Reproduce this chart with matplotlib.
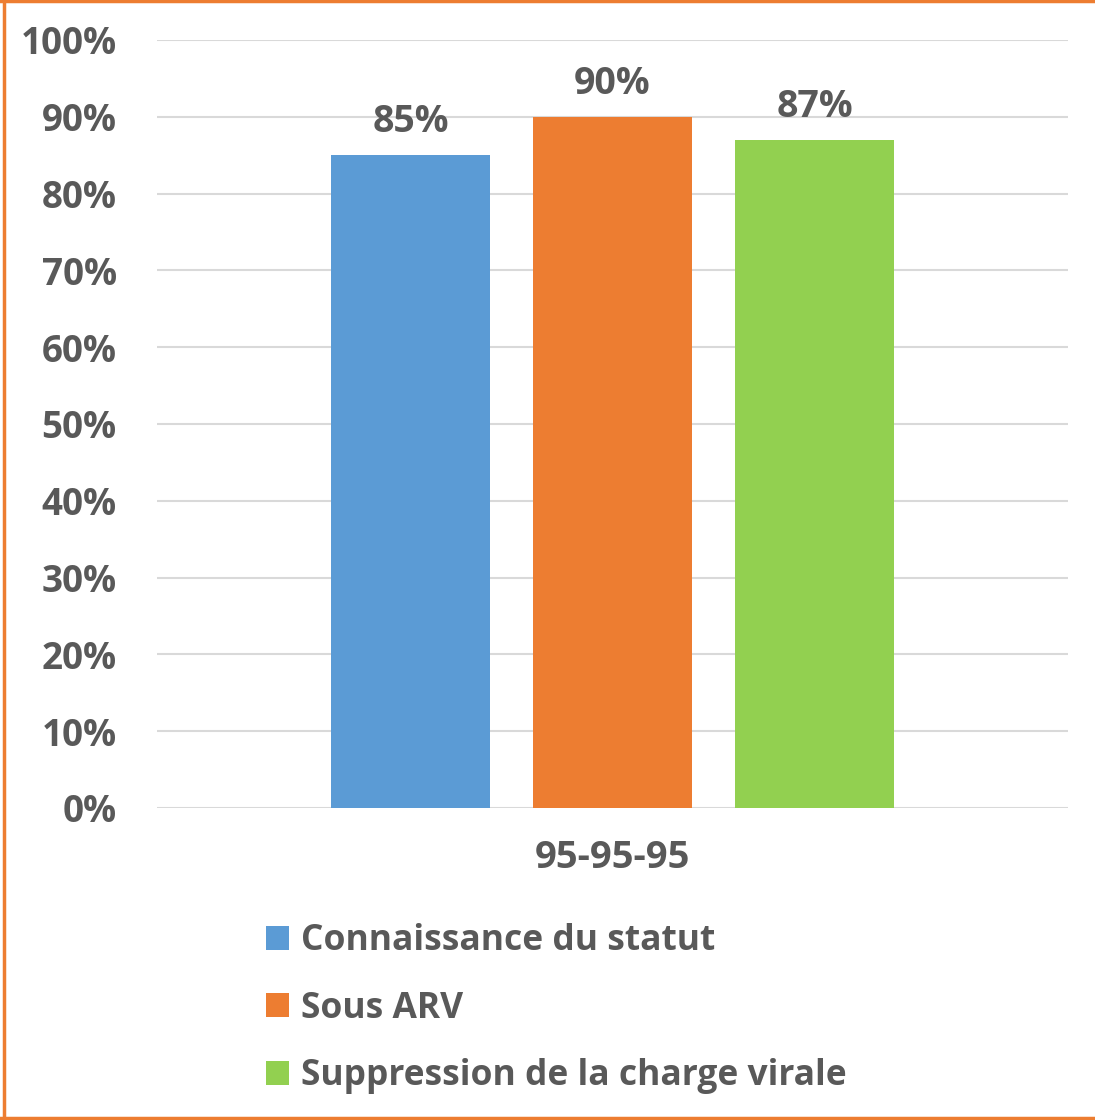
import matplotlib.pyplot as plt
from matplotlib.patches import Patch
from matplotlib.lines import Line2D

# data
categories = ["Connaissance du statut", "Sous ARV", "Suppression de la charge virale"]
values = [85, 90, 87]
colors = ["#5B9BD5", "#ED7D31", "#92D050"]
group_label = "95-95-95"
yticks = list(range(0, 101, 10))

txt = "#595959"
plt.rcParams['font.family'] = ['Open Sans', 'DejaVu Sans']
plt.rcParams['font.weight'] = 'bold'

fig = plt.figure(figsize=(10.95, 11.2), dpi=100)
ax = fig.add_axes([157 / 1095, 1 - 808 / 1120, 911 / 1095, 768 / 1120])

xs = [-1, 0, 1]
bars = ax.bar(xs, values, width=0.787, color=colors, zorder=3)
for x, v in zip(xs, values):
    ax.annotate(f"{v}%", (x, v), xytext=(0, 10), textcoords="offset points",
                ha="center", va="bottom", fontsize=27, color=txt, fontweight="bold")

ax.set_ylim(0, 100)
ax.set_xlim(-2.255, 2.255)
ax.set_yticks(yticks)
ax.set_yticklabels([f"{t}%" for t in yticks])
ax.set_xticks([0])
ax.set_xticklabels([group_label])
ax.tick_params(axis="y", length=0, pad=29, labelsize=26.5, labelcolor=txt)
ax.tick_params(axis="x", length=0, pad=22, labelsize=27.5, labelcolor=txt)
ax.yaxis.grid(True, color="#d9d9d9", linewidth=1.5, zorder=0)
for s in ax.spines.values():
    s.set_visible(False)

handles = [Patch(facecolor=c, edgecolor="none") for c in colors]
fig.legend(handles, categories, loc="upper left", bbox_to_anchor=(266 / 1095, 1 - 923 / 1120),
           frameon=False, fontsize=25.5, labelcolor=txt, handlelength=0.66, handleheight=0.66,
           handletextpad=0.32, labelspacing=0.89, borderaxespad=0, borderpad=0)

# orange frame (left, top, bottom)
fc = "#ED7D31"
fig.add_artist(Line2D([4 / 1095, 4 / 1095], [0, 1], color=fc, linewidth=2.5, transform=fig.transFigure))
fig.add_artist(Line2D([0, 1], [1 - 1 / 1120, 1 - 1 / 1120], color=fc, linewidth=2.5, transform=fig.transFigure))
fig.add_artist(Line2D([0, 1], [2 / 1120, 2 / 1120], color=fc, linewidth=2.5, transform=fig.transFigure))

fig.savefig("out.png", dpi=100)
